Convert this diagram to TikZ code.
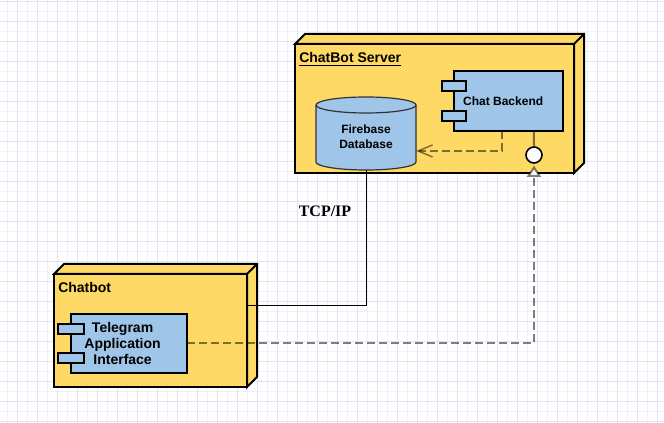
\documentclass[tikz,border=0pt]{standalone}
\usepackage{fontspec}
\setmainfont{Liberation Sans}
\newfontfamily\tcpfont{Liberation Serif}
\usetikzlibrary{arrows.meta,calc}
\definecolor{nodeyellow}{HTML}{FFD966}
\definecolor{compblue}{HTML}{9FC5E8}
\definecolor{gridstrong}{HTML}{E4E2F7}
\definecolor{gridfaint}{HTML}{F2F1FB}

\begin{document}
\begin{tikzpicture}[x=0.75pt,y=-0.75pt,
    devbox/.style={draw, line width=1.5pt, fill=nodeyellow, inner sep=0pt, outer sep=0pt},
    compbox/.style={draw, line width=1.5pt, fill=compblue, inner sep=0pt, outer sep=0pt},
    tabbox/.style={draw, line width=1.5pt, fill=compblue, minimum height=7.5pt, inner sep=0pt, outer sep=0pt},
    nodetitle/.style={font=\bfseries\fontsize{10.5}{12}\selectfont, anchor=base west, inner sep=0pt},
    link/.style={draw=black, draw opacity=0.5, line width=1.5pt},
    dep/.style={link, dash pattern=on 6pt off 3pt},
]
    \useasboundingbox[fill=white] (0,0) rectangle (664,423);
    % background grid
    \foreach \x in {7,27,...,647} \draw[gridfaint, line width=0.75pt] (\x,0) -- (\x,423);
    \foreach \y in {12,32,...,412} \draw[gridfaint, line width=0.75pt] (0,\y) -- (664,\y);
    \foreach \x in {17,37,...,657} \draw[gridstrong, line width=0.75pt] (\x,0) -- (\x,423);
    \foreach \y in {2,22,...,422} \draw[gridstrong, line width=0.75pt] (0,\y) -- (664,\y);

    % nodes
    \node[devbox, minimum width=209.25pt, minimum height=96.75pt] (server) at (434.5,108.5) {};
    \node[devbox, minimum width=144.75pt, minimum height=84.75pt] (chatbot) at (150.5,330.5) {};
    \foreach \n in {server,chatbot}{%
        \filldraw[fill=nodeyellow, line width=1.5pt, line join=miter]
            (\n.north west) -- ++(7.5pt,7.5pt) -| ([shift={(7.5pt,7.5pt)}]\n.south east)
            -- (\n.south east) -- (\n.north east) -- cycle
            (\n.north east) -- ++(7.5pt,7.5pt);
    }
    \node[nodetitle] (servertitle) at (299,63) {\underline{ChatBot Server}};
    \node[nodetitle] (chatbottitle) at (58,293) {Chatbot};

    % components
    \node[compbox, minimum width=81.75pt, minimum height=45pt,
        label={[font=\bfseries\fontsize{9}{11}\selectfont, xshift=-4pt]center:Chat Backend}]
        (backend) at (508.5,101) {};
    \node[compbox, minimum width=87pt, minimum height=44.25pt,
        label={[font=\bfseries\fontsize{10.5}{12}\selectfont, align=center, xshift=-4.8pt]center:{Telegram\\Application\\Interface}}]
        (tg) at (129,343.5) {};
    \foreach \n/\w in {backend/18pt,tg/20pt}{%
        \foreach \p/\t in {0.25/a,0.75/b}{%
            \node[tabbox, minimum width=\w] (\n-\t) at ($(\n.north west)!\p!(\n.south west)$) {};
        }
    }

    % database
    \node[minimum width=75pt, minimum height=54.75pt, inner sep=0pt, outer sep=0pt] (db) at (366,133.5) {};
    \filldraw[fill=compblue, draw=black!80, line width=0.9pt]
        ([yshift=-6pt]db.north west) -- ([yshift=6pt]db.south west)
        arc[start angle=180, end angle=360, x radius=37.5pt, y radius=6pt]
        -- ([yshift=-6pt]db.north east)
        arc[start angle=0, end angle=180, x radius=37.5pt, y radius=6pt] -- cycle;
    \draw[draw=black!80, line width=0.9pt] ([yshift=-6pt]db.north west)
        arc[start angle=180, end angle=360, x radius=37.5pt, y radius=6pt];
    \node[font=\bfseries\fontsize{9}{11.25}\selectfont, align=center] (dbtext)
        at ([yshift=-2.6pt]db.center) {Firebase\\Database};

    % interface
    \node[circle, draw, line width=1.2pt, fill=white, minimum size=12pt, inner sep=0pt] (iface) at (534,155) {};

    % connectors
    \draw[link] ([xshift=19.1pt]backend.south) -- (iface.north);
    \draw[dep, line width=1.1pt, -{Straight Barb[length=11pt, width=9pt]}]
        ([xshift=-4.9pt]backend.south) |- ([yshift=-13.1pt]db.east);
    \draw[dep, -{Triangle[length=8.25pt, width=10.5pt, fill=white]}]
        (tg.east) -| ([yshift=-1.5pt]iface.south);
    \draw[line width=0.75pt] (db.south) |- ([yshift=18.4pt]chatbot.east);
    \node[font=\tcpfont\bfseries\fontsize{12}{14}\selectfont, anchor=base, inner sep=0pt] (tcp) at (325,217) {TCP/IP};
\end{tikzpicture}
\end{document}
